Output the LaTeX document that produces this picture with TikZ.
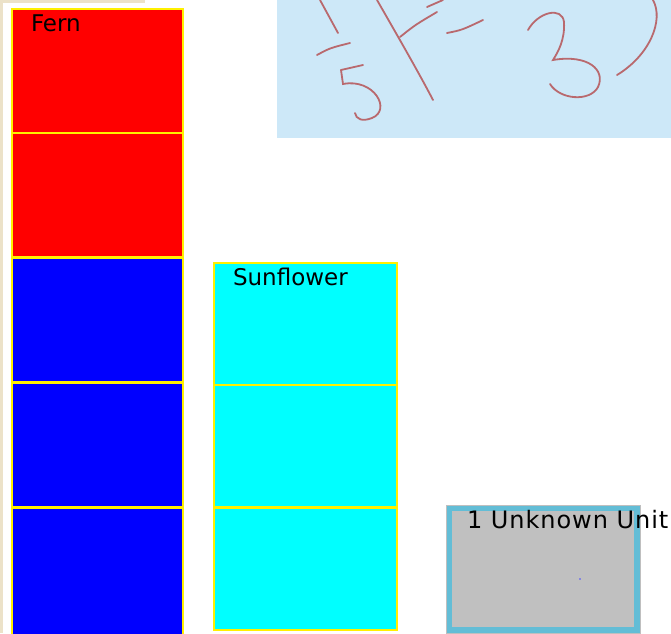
\documentclass[tikz,border=0pt]{standalone}
\usepackage{fontspec}
\setmainfont{DejaVu Sans}
\definecolor{fernred}{RGB}{255,0,0}
\definecolor{fernblue}{RGB}{0,0,255}
\definecolor{sunaqua}{RGB}{0,255,255}
\definecolor{edgeyel}{RGB}{255,240,0}
\definecolor{paperbg}{RGB}{205,232,248}
\definecolor{inkred}{RGB}{185,105,110}
\definecolor{unitrim}{RGB}{99,189,214}
\definecolor{unitgray}{RGB}{192,192,192}
\definecolor{beige}{RGB}{236,226,200}
\begin{document}
\begin{tikzpicture}[x=1pt, y=-1pt,
  every node/.style={inner sep=0pt, outer sep=0pt},
  fernR/.style={rectangle, draw=edgeyel, line width=1.6pt, fill=fernred,
                minimum width=171pt, minimum height=124pt, anchor=north west},
  fernB/.style={rectangle, draw=edgeyel, line width=1.6pt, fill=fernblue,
                minimum width=171pt, minimum height=124pt, anchor=north west},
  sunA/.style={rectangle, draw=edgeyel, line width=1.6pt, fill=sunaqua,
               minimum width=183pt, minimum height=122pt, anchor=north west},
  plantlbl/.style={font=\fontsize{23}{27}\selectfont, anchor=base west},
  ink/.style={draw=inkred, line width=1.8pt, line cap=round}
]
\useasboundingbox (0,0) rectangle (671,633);
% paper edge
\fill[beige] (0,0) rectangle (3,633);
\fill[beige] (0,0) rectangle (145,3);

% FERN
\node[fernR] (f1) at (12,9)   {};
\node[fernR] (f2) at (12,133) {};
\node[fernB] (f3) at (12,258) {};
\node[fernB] (f4) at (12,383) {};
\node[fernB, minimum height=130pt] (f5) at (12,508) {};
\node[plantlbl] (fern) at (31,31) {Fern};

% SUNFLOWER
\node[sunA] (s1) at (214,263) {};
\node[sunA] (s2) at (214,385) {};
\node[sunA] (s3) at (214,508) {};
\node[plantlbl] (sun) at (233,285) {Sunflower};

% HANDWRITTEN NOTE
\node[rectangle, fill=paperbg, minimum width=394pt, minimum height=138pt,
      anchor=north west] (note) at (277,0) {};
\draw[ink] (320,0) -- (338,33);
\draw[ink] (317,55) .. controls (330,48) .. (350,43);
\draw[ink] (341,70) .. controls (352,67) .. (363,65);
\draw[ink] (341,70) -- (343,84) .. controls (374,78) and (392,110) .. (372,118)
           .. controls (362,122) and (356,119) .. (355,113);
\draw[ink] (377,0) .. controls (400,40) and (420,75) .. (433,100);
\draw[ink] (400,37) .. controls (415,25) .. (437,12);
\draw[ink] (427,7) -- (443,0);
\draw[ink] (447,33) .. controls (462,30) .. (483,20);
\draw[ink] (528,30) .. controls (538,12) and (562,6) .. (564,22)
           .. controls (565,40) and (558,52) .. (553,60)
           .. controls (588,54) and (606,70) .. (598,87)
           .. controls (590,102) and (560,100) .. (550,84);
\draw[ink] (653,0) .. controls (664,20) and (650,55) .. (617,75);

% UNKNOWN UNIT
\node[rectangle, draw=unitrim, line width=6pt, fill=unitgray,
      minimum width=188pt, minimum height=122pt, anchor=north west] (unit) at (449,508) {};
\draw[gray!50, line width=0.6pt] (unit.north west) ++(-3,-3) rectangle ([shift={(3,3)}]unit.south east);
\fill[blue!70] (580,579) circle (0.8);
\node[plantlbl, font=\fontsize{24}{28}\addfontfeature{LetterSpace=4}] (unitlbl) at (467,528) {1 Unknown Unit};
\end{tikzpicture}
\end{document}
